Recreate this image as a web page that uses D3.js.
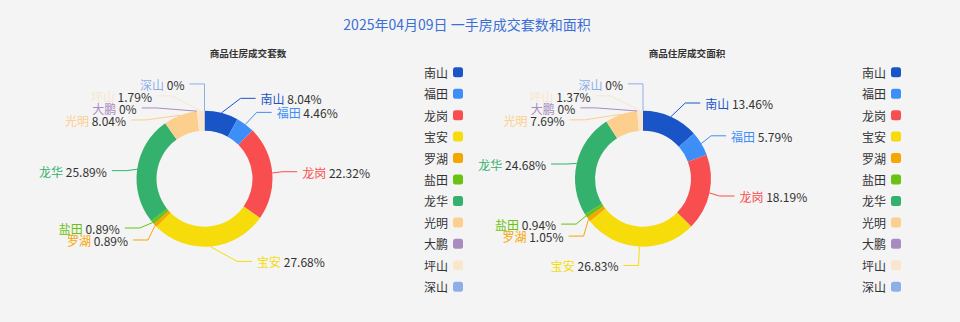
<!DOCTYPE html>
<html>
<head>
<meta charset="utf-8">
<script src="https://cdn.jsdelivr.net/npm/d3@7"></script>
<style>
  html, body { margin: 0; padding: 0; background: #f4f4f4; }
  svg { display: block; font-family: "Noto Sans CJK SC", "Noto Sans", sans-serif; }
</style>
</head>
<body>
<svg id="chart" width="960" height="322"></svg>
<script>
// Districts, in slice / legend order
const districts = ['南山', '福田', '龙岗', '宝安', '罗湖', '盐田', '龙华', '光明', '大鹏', '坪山', '深山'];
const districtColors = ['#1a55c8', '#3d8ff7', '#f94e4f', '#f5dc0a', '#f5a700', '#6ac212',
                        '#34b16c', '#fccf8e', '#a88bc0', '#fae6cc', '#8eaee9'];

// Share of transactions (%) — units sold and floor area sold
const unitShares = [8.04, 4.46, 22.32, 27.68, 0.89, 0.89, 25.89, 8.04, 0, 1.79, 0];
const areaShares = [13.46, 5.79, 18.19, 26.83, 1.05, 0.94, 24.68, 7.69, 0, 1.37, 0];

const chartTitle = '2025年04月09日 一手房成交套数和面积';
const panelTitles = ['商品住房成交套数', '商品住房成交面积'];

const W = 960, H = 322;
const outerR = 68, innerR = 48;
const lineLen = 15, lineLen2 = 15, labelDist = 5, labelH = 12;

const color = d3.scaleOrdinal(districts, districtColors);
const legendY = d3.scalePoint().domain(districts).range([72.3, 286.7]);

const svg = d3.select('#chart');
svg.append('rect').attr('width', W).attr('height', H).attr('fill', '#f4f4f4');

svg.append('text')
  .attr('x', 467).attr('y', 24)
  .attr('text-anchor', 'middle').attr('dominant-baseline', 'central')
  .attr('font-size', 14).attr('fill', '#3a6fd6')
  .text(chartTitle);

const panels = [
  { title: panelTitles[0], values: unitShares, cx: 204.5, cy: 178.7, titleX: 248, legendX: 453 },
  { title: panelTitles[1], values: areaShares, cx: 643, cy: 178.7, titleX: 687, legendX: 891 }
];

// Push overlapping labels apart on one side of a pie, then slide them
// along a circle so the leader lines stay tidy.
function adjustSide(list, cx, cy, r, dir) {
  list.sort((a, b) => a.y - b.y);
  const n = list.length;
  function shiftUp(end, delta) {
    for (let j = end; j >= 0; j--) {
      if (list[j].y - delta < 0) break;
      list[j].y -= delta;
      if (j > 0 && list[j].y > list[j - 1].y + list[j - 1].h) break;
    }
  }
  function shiftDown(start, end, delta) {
    for (let j = start; j < end; j++) {
      if (list[j].y + delta > H) break;
      list[j].y += delta;
      if (j > start && j + 1 < end && list[j + 1].y > list[j].y + list[j].h) {
        shiftUp(j, delta / 2);
        return;
      }
    }
    shiftUp(end - 1, delta / 2);
  }
  let lastY = 0;
  for (let i = 0; i < n; i++) {
    const delta = list[i].y - lastY;
    if (delta < 0) shiftDown(i, n, -delta);
    lastY = list[i].y + list[i].h;
  }
  if (H - lastY < 0) shiftUp(n - 1, lastY - H);

  const up = list.filter(d => d.y < cy);
  const down = list.filter(d => d.y >= cy);
  function changeX(items, isDown) {
    let last = isDown ? Number.MAX_VALUE : 0;
    const R = r + lineLen + lineLen2;
    items.forEach(d => {
      const dy = Math.abs(d.y - cy);
      let dx = dy < r + lineLen ? Math.sqrt(R * R - dy * dy) : Math.abs(d.x - cx);
      if (isDown && dx >= last) dx = last - 10;
      if (!isDown && dx <= last) dx = last + 10;
      d.x = cx + dx * dir;
      last = dx;
    });
  }
  changeX(up, false);
  changeX(down, true);
}

const pie = d3.pie().sort(null).value(d => d.value);
const arc = d3.arc().innerRadius(innerR).outerRadius(outerR);

panels.forEach(p => {
  const data = districts.map((name, i) => ({ name, value: p.values[i] }));
  const arcs = pie(data);
  const g = svg.append('g');

  g.append('text')
    .attr('x', p.titleX).attr('y', 52.5)
    .attr('text-anchor', 'middle').attr('dominant-baseline', 'central')
    .attr('font-size', 9.6).attr('font-weight', 'bold').attr('fill', '#333')
    .text(p.title);

  g.append('g').attr('transform', `translate(${p.cx},${p.cy})`)
    .selectAll('path').data(arcs).join('path')
    .attr('d', arc)
    .attr('fill', d => color(d.data.name));

  // Label placement
  const labels = arcs.map(a => {
    const t = (a.startAngle + a.endAngle) / 2;
    const s = Math.sin(t), c = Math.cos(t);
    const dir = s < 0 ? -1 : 1;
    const x1 = p.cx + outerR * s, y1 = p.cy - outerR * c;
    const x2 = p.cx + (outerR + lineLen) * s, y2 = p.cy - (outerR + lineLen) * c;
    const x3 = x2 + dir * lineLen2;
    return { d: a.data, dir, x1, y1, x: x3 + dir * labelDist, y: y2, h: labelH };
  });
  adjustSide(labels.filter(l => l.dir < 0), p.cx, p.cy, outerR, -1);
  adjustSide(labels.filter(l => l.dir > 0), p.cx, p.cy, outerR, 1);

  labels.forEach(l => {
    const end = l.x - l.dir * labelDist;
    const bend = end - l.dir * lineLen2;
    g.append('path')
      .attr('d', d3.line()([[l.x1, l.y1], [bend, l.y], [end, l.y]]))
      .attr('fill', 'none')
      .attr('stroke', color(l.d.name))
      .attr('stroke-width', 1);
    const t = g.append('text')
      .attr('x', l.x).attr('y', l.y)
      .attr('text-anchor', l.dir < 0 ? 'end' : 'start')
      .attr('dominant-baseline', 'central')
      .attr('font-size', 12);
    t.append('tspan').attr('fill', color(l.d.name)).text(l.d.name);
    t.append('tspan').attr('fill', '#333').text(' ' + l.d.value + '%');
  });

  // Legend
  const lg = g.append('g');
  const rows = lg.selectAll('g').data(districts).join('g')
    .attr('transform', d => `translate(${p.legendX},${legendY(d)})`);
  rows.append('rect')
    .attr('x', 0).attr('y', -5).attr('width', 10).attr('height', 10)
    .attr('rx', 2.5).attr('fill', d => color(d));
  rows.append('text')
    .attr('x', -5).attr('y', 0)
    .attr('text-anchor', 'end').attr('dominant-baseline', 'central')
    .attr('font-size', 12).attr('fill', '#333')
    .text(d => d);
});
</script>
</body>
</html>
